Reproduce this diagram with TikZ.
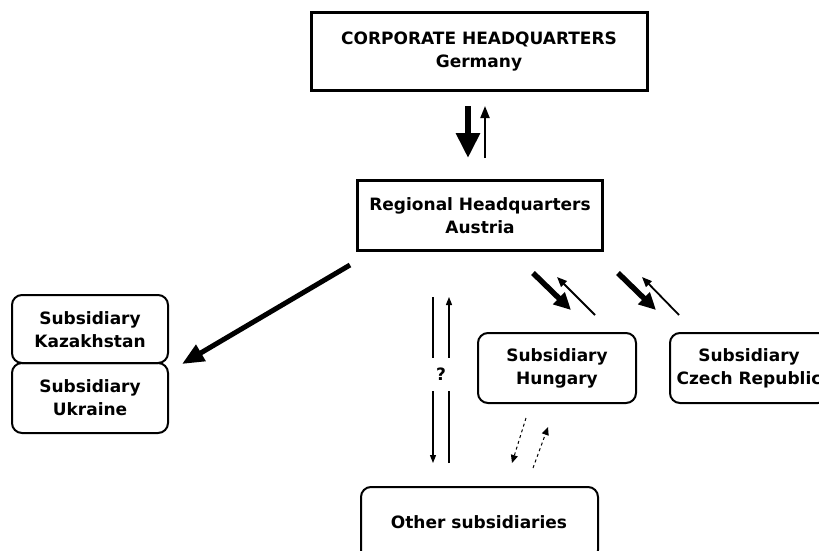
\documentclass[tikz,border=0pt]{standalone}
\usepackage{fontspec}
\setmainfont{DejaVu Sans}
\usetikzlibrary{arrows.meta}
\tikzset{
  lbl/.style={font=\fontsize{17}{23}\selectfont\bfseries, align=center, inner sep=0pt},
  hqbox/.style={draw, line width=3pt},
  subbox/.style={draw, line width=2pt, rounded corners=10pt},
  bigarrow/.style={line width=6pt, -{Triangle[length=25pt,width=23pt]}},
  thinarrow/.style={line width=2pt, -{Triangle[length=12pt,width=9pt]}},
  diagbig/.style={line width=5.5pt, -{Triangle[length=17pt,width=16pt]}},
  diagthin/.style={line width=1.8pt, -{Triangle[length=10pt,width=8pt]}},
  kzarrow/.style={line width=5pt, -{Triangle[length=22pt,width=18pt]}},
  finearrow/.style={line width=1.1pt, -{Triangle[length=8pt,width=6pt]}},
  dasharrow/.style={line width=1pt, dash pattern=on 3pt off 3pt, -{Triangle[length=8pt,width=7pt]}}
}
\begin{document}
\begin{tikzpicture}[x=1pt,y=-1pt]
\clip (0,0) rectangle (819,551);
\fill[white] (0,0) rectangle (819,551);

% boxes
\draw[hqbox] (311,13) rectangle (647,90);
\node[lbl] (corp) at (479,52) {CORPORATE HEADQUARTERS\\Germany};
\draw[hqbox] (357,180) rectangle (602,250);
\node[lbl] (reg) at (480,216) {Regional Headquarters\\Austria};

\draw[subbox] (12,295) rectangle (168,363);
\node[lbl] (kaz) at (90,330) {Subsidiary\\Kazakhstan};
\draw[subbox] (12,363) rectangle (168,433);
\node[lbl] (ukr) at (90,398) {Subsidiary\\Ukraine};
\draw[subbox] (478,333) rectangle (636,403);
\node[lbl] (hun) at (557,368) {Subsidiary\\Hungary};
\draw[subbox] (670,333) rectangle (828,403);
\node[lbl] (cze) at (749,368) {Subsidiary\\Czech Republic};
\draw[subbox] (361,487) rectangle (598,560);
\node[lbl] (oth) at (479,522) {Other subsidiaries};

% arrow end points
\coordinate (a1s) at (468,106); \coordinate (a1e) at (468,158);
\coordinate (a2s) at (485,158); \coordinate (a2e) at (485,106);
\coordinate (kzs) at (350,265); \coordinate (kze) at (182,364);
\coordinate (h1s) at (533,273); \coordinate (h1e) at (571,310);
\coordinate (h2s) at (595,315); \coordinate (h2e) at (557,277);
\coordinate (c1s) at (618,273); \coordinate (c1e) at (656,310);
\coordinate (c2s) at (679,315); \coordinate (c2e) at (642,277);
\coordinate (v1s) at (433,297); \coordinate (v1e) at (433,463);
\coordinate (v2s) at (449,463); \coordinate (v2e) at (449,297);
\coordinate (d1s) at (526,418); \coordinate (d1e) at (512,463);
\coordinate (d2s) at (533,468); \coordinate (d2e) at (548,427);

\draw[bigarrow] (a1s) -- (a1e);
\draw[thinarrow] (a2s) -- (a2e);
\draw[kzarrow] (kzs) -- (kze);
\draw[diagbig] (h1s) -- (h1e);
\draw[diagthin] (h2s) -- (h2e);
\draw[diagbig] (c1s) -- (c1e);
\draw[diagthin] (c2s) -- (c2e);
\draw[finearrow] (v1s) -- (v1e);
\draw[finearrow] (v2s) -- (v2e);
\draw[dasharrow] (d1s) -- (d1e);
\draw[dasharrow] (d2s) -- (d2e);

\node[lbl, fill=white, minimum width=22pt, minimum height=33pt] (q) at (441,374) {?};
\end{tikzpicture}
\end{document}
